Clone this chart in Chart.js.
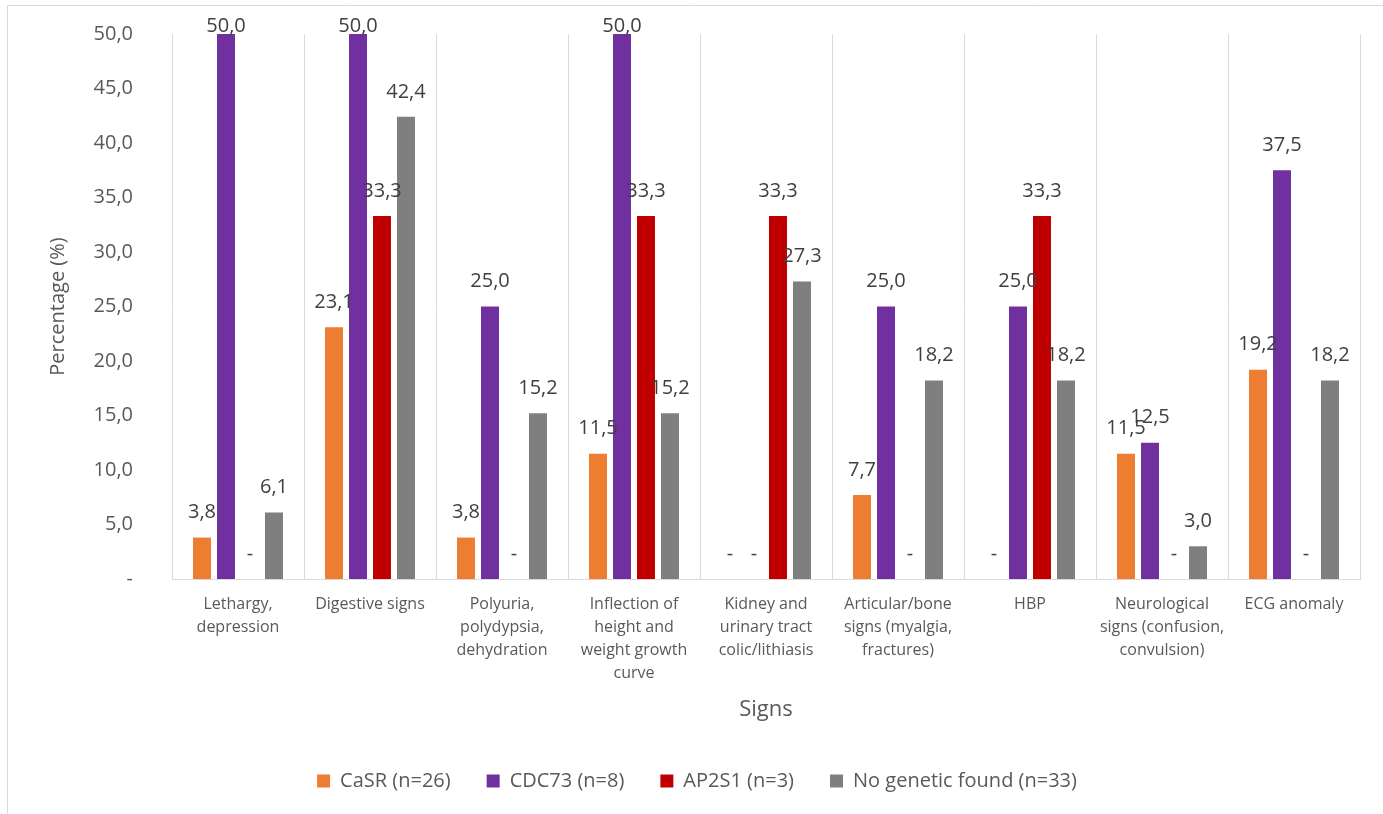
<!DOCTYPE html>
<html>
<head>
<meta charset="utf-8">
<title>Signs by genetic group</title>
<script src="https://cdn.jsdelivr.net/npm/chart.js@4"></script>
<style>
    html, body { margin: 0; padding: 0; background: #fff; }
    #wrap { width: 1383px; height: 814px; }
</style>
</head>
<body>
<div id="wrap"><canvas id="signsChart" width="1383" height="814"></canvas></div>
<script>
// Signs chart data (percentages)
const categories = [
    ['Lethargy,', 'depression'],
    ['Digestive signs'],
    ['Polyuria,', 'polydypsia,', 'dehydration'],
    ['Inflection of', 'height and', 'weight growth', 'curve'],
    ['Kidney and', 'urinary tract', 'colic/lithiasis'],
    ['Articular/bone', 'signs (myalgia,', 'fractures)'],
    ['HBP'],
    ['Neurological', 'signs (confusion,', 'convulsion)'],
    ['ECG anomaly']
];
const seriesNames = ['CaSR (n=26)', 'CDC73 (n=8)', 'AP2S1 (n=3)', 'No genetic found (n=33)'];
const casrValues = [3.8, 23.1, 3.8, 11.5, 0, 7.7, 0, 11.5, 19.2];
const cdc73Values = [50.0, 50.0, 25.0, 50.0, 0, 25.0, 25.0, 12.5, 37.5];
const ap2s1Values = [0, 33.3, 0, 33.3, 33.3, 0, 33.3, 0, 0];
const noGeneticValues = [6.1, 42.4, 15.2, 15.2, 27.3, 18.2, 18.2, 3.0, 18.2];
const seriesColors = ['#ED7D31', '#7030A0', '#C00000', '#7F7F7F'];
const yMin = 0;
const yMax = 50;
const yStep = 5;

const textColor = '#595959';
const FONT = '"Open Sans", "Noto Sans", sans-serif';
Chart.defaults.font.family = FONT;

function formatValue(v) {
    return v === 0 ? '-' : v.toFixed(1).replace('.', ',');
}

// draws the thin frame around the whole chart
const chartFrame = {
    id: 'chartFrame',
    beforeDraw(chart) {
        const ctx = chart.ctx;
        ctx.save();
        ctx.fillStyle = '#fff';
        ctx.fillRect(0, 0, chart.width, chart.height);
        ctx.strokeStyle = '#d9d9d9';
        ctx.lineWidth = 1;
        ctx.beginPath();
        ctx.moveTo(7.5, chart.height);
        ctx.lineTo(7.5, 5.5);
        ctx.lineTo(chart.width, 5.5);
        ctx.stroke();
        ctx.restore();
    }
};

// value labels above the bars, '-' for zero
const barLabels = {
    id: 'barLabels',
    afterDatasetsDraw(chart) {
        const ctx = chart.ctx;
        ctx.save();
        ctx.font = '20px ' + FONT;
        ctx.fillStyle = '#404040';
        ctx.textAlign = 'center';
        ctx.textBaseline = 'middle';
        chart.data.datasets.forEach((ds, i) => {
            const meta = chart.getDatasetMeta(i);
            meta.data.forEach((bar, j) => {
                const y = Math.max(bar.y - 25, 26);
                ctx.fillText(formatValue(ds.data[j]), bar.x, y);
            });
        });
        ctx.restore();
    }
};

// nudge the legend so it is centred like the original
const legendShift = {
    id: 'legendShift',
    afterLayout(chart) {
        if (chart.legend) {
            chart.legend.left += 17;
            chart.legend.right += 17;
        }
    }
};

const allValues = [casrValues, cdc73Values, ap2s1Values, noGeneticValues];

const ctx = document.getElementById('signsChart').getContext('2d');
new Chart(ctx, {
    type: 'bar',
    data: {
        labels: categories,
        datasets: seriesNames.map((name, i) => ({
            label: name,
            data: allValues[i],
            backgroundColor: seriesColors[i],
            borderWidth: 0,
            categoryPercentage: 0.727,
            barPercentage: 0.75
        }))
    },
    options: {
        responsive: false,
        animation: false,
        layout: {
            padding: { top: 34, right: 23, bottom: 13, left: 0 }
        },
        plugins: {
            tooltip: { enabled: false },
            legend: {
                position: 'bottom',
                labels: {
                    boxWidth: 13,
                    boxHeight: 13,
                    padding: 36,
                    color: textColor,
                    font: { size: 20 }
                }
            }
        },
        scales: {
            x: {
                grid: { color: '#d9d9d9', drawTicks: false },
                border: { color: '#d9d9d9' },
                ticks: {
                    color: textColor,
                    font: { size: 16, lineHeight: 1.43 },
                    padding: 14,
                    maxRotation: 0,
                    autoSkip: false
                },
                title: {
                    display: true,
                    text: 'Signs',
                    color: textColor,
                    font: { size: 22 },
                    padding: { top: 0, bottom: 12 }
                },
                afterFit(scale) { scale.height = 156; }
            },
            y: {
                min: yMin,
                max: yMax,
                grid: { display: false, drawTicks: false },
                border: { display: false },
                ticks: {
                    stepSize: yStep,
                    color: textColor,
                    font: { size: 20 },
                    padding: 39,
                    callback: v => formatValue(v)
                },
                title: {
                    display: true,
                    text: 'Percentage (%)',
                    color: textColor,
                    font: { size: 20 },
                    padding: { top: 46, bottom: 0 }
                },
                afterFit(scale) {
                    scale.width = 172;
                    // tick padding would otherwise push the plot area down
                    scale.paddingTop = 0;
                    scale.paddingBottom = 0;
                }
            }
        }
    },
    plugins: [chartFrame, barLabels, legendShift]
});
</script>
</body>
</html>
